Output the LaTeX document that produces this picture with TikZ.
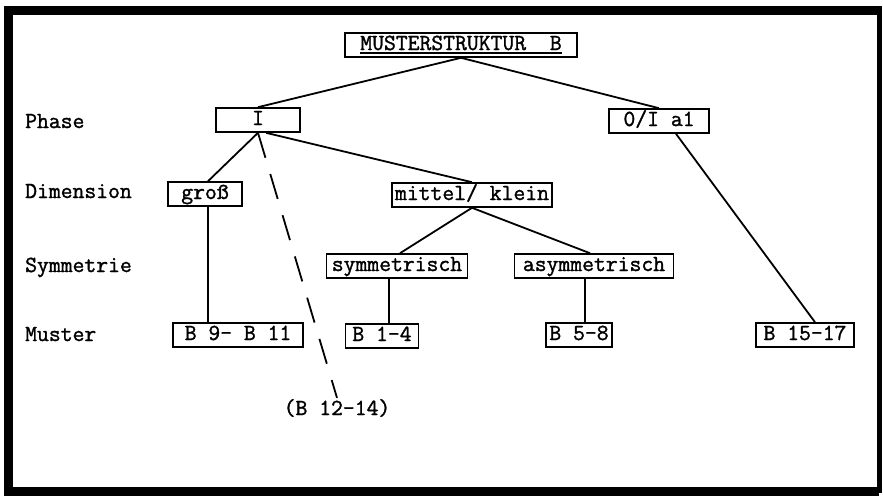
\documentclass[tikz,border=0pt]{standalone}
\usepackage{fontspec}
% typewriter face, slightly emboldened
\newfontfamily\typer[FakeBold=1.4]{Latin Modern Mono}
% underline drawn as a thick rule below the text
\newcommand\thickul[1]{\setbox0\hbox{#1}\rlap{\rule[-3.5pt]{\wd0}{1.6pt}}\box0}
\begin{document}
\begin{tikzpicture}[x=1pt,y=-1pt,
  every node/.style={font=\typer\fontsize{23}{25}\selectfont},
  box/.style={draw,line width=1.6pt,minimum height=24pt,inner sep=2pt,
              text height=14pt,text depth=4pt},
  link/.style={line width=1.8pt},
  levellabel/.style={anchor=base west,inner sep=0pt},
]
\useasboundingbox (0,0) rectangle (883,496);
\fill[white] (0,0) rectangle (883,496);

% frame
\draw[line width=9pt] (879,10) -- (8.5,10) -- (8.5,491) -- (879,491);
\draw[line width=5pt] (879,6) -- (879,493);

% level labels
\node[levellabel] (lphase) at (25,128) {Phase};
\node[levellabel] (ldim)   at (25,198) {Dimension};
\node[levellabel] (lsym)   at (25,272) {Symmetrie};
\node[levellabel] (lmus)   at (25,341) {Muster};

% tree nodes
\node[box,minimum width=232pt] (ms)    at (461,45)  {\thickul{MUSTERSTRUKTUR\ \ B}};
\node[box,minimum width=84pt]  (i)     at (258,120) {I};
\node[box,minimum width=100pt] (oi)    at (659,121) {0/I a1};
\node[box,minimum width=74pt]  (gross) at (205,194) {groß};
\node[box,minimum width=160pt] (mk)    at (472,195) {mittel/ klein};
\node[box,minimum width=141pt] (sym)   at (397,266) {symmetrisch};
\node[box,minimum width=159pt] (asym)  at (594,266) {asymmetrisch};
\node[box,minimum width=130pt] (b911)  at (238,335) {B 9- B 11};
\node[box,minimum width=73pt]  (b14)   at (382,336) {B 1-4};
\node[box,minimum width=66pt]  (b58)   at (579,335) {B 5-8};
\node[box,minimum width=98pt]  (b1517) at (805,335) {B 15-17};
\node[inner sep=1pt] (b1214) at (337,408) {(B 12-14)};

% connectors
\draw[link] (ms.south) -- (i.north);
\draw[link] (ms.south) -- (oi.north);
\draw[link] (i.south) -- ([xshift=3pt]gross.north);
\draw[link] ([xshift=8pt]i.south) -- (mk.north);
\draw[link,dash pattern=on 26pt off 17pt] (i.south) -- (b1214.north);
\draw[link] ([xshift=3pt]gross.south) -- ([xshift=3pt]gross.south |- b911.north);
\draw[link] (mk.south) -- ([xshift=3pt]sym.north);
\draw[link] (mk.south) -- ([xshift=-4pt]asym.north);
\draw[link] ([xshift=-8pt]sym.south) -- ([xshift=-8pt]sym.south |- b14.north);
\draw[link] ([xshift=-9pt]asym.south) -- ([xshift=-9pt]asym.south |- b58.north);
\draw[link] ([xshift=17pt]oi.south) -- ([xshift=10pt]b1517.north);
\end{tikzpicture}
\end{document}
